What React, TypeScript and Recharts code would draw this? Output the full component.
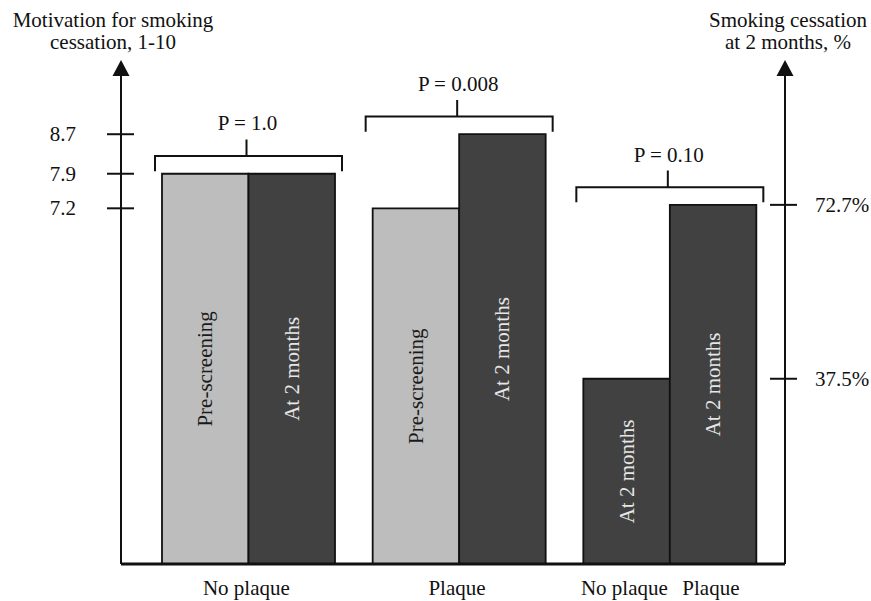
import React from "react";
import { ComposedChart, Bar, XAxis, YAxis, LabelList } from "recharts";

// #region Data
const groups = ["No plaque", "Plaque", "No plaque  Plaque"];
const preScreening = [7.9, 7.2, null];
const atTwoMonths = [7.9, 8.7, null];
const cessationNoPlaque = [null, null, 37.5];
const cessationPlaque = [null, null, 72.7];
const pValues = ["P = 1.0", "P = 0.008", "P = 0.10"];
const motivationTicks = [7.2, 7.9, 8.7];
const cessationTicks = [37.5, 72.7];
// #endregion

const data = groups.map((group, i) => ({
  group,
  pre: preScreening[i],
  post: atTwoMonths[i],
  noPlaque: cessationNoPlaque[i],
  plaque: cessationPlaque[i],
  p: pValues[i],
}));

const INK = "#111";
const LIGHT = "#bdbdbd";
const DARK = "#414141";
const FONT = "'Liberation Serif', 'Times New Roman', serif";
const FS = 21;
const BAR = 86.5;

const boxOf = (props: any) => props.viewBox ?? props;

const LeftTick = ({ x, y, payload }: any) => (
  <g>
    <line x1={x - 14} x2={x + 13} y1={y} y2={y} stroke={INK} strokeWidth={2} />
    <text x={x - 45} y={y + 7} textAnchor="end" fontSize={FS} fontFamily={FONT} fill={INK}>
      {payload.value}
    </text>
  </g>
);

const RightTick = ({ x, y, payload }: any) => (
  <g>
    <line x1={x - 15} x2={x + 12} y1={y} y2={y} stroke={INK} strokeWidth={2} />
    <text x={x + 30} y={y + 7} textAnchor="start" fontSize={FS} fontFamily={FONT} fill={INK}>
      {payload.value}%
    </text>
  </g>
);

const GroupTick = ({ x, y, payload }: any) => {
  const parts = String(payload.value).split("  ");
  const offsets = parts.length > 1 ? [-BAR / 2, BAR / 2] : [0];
  return (
    <g>
      {parts.map((p, i) => (
        <text key={p} x={x + offsets[i] - 2} y={y + 31} textAnchor="middle" fontSize={FS} fontFamily={FONT} fill={INK}>
          {p}
        </text>
      ))}
    </g>
  );
};

const axisTop = (lines: string[], side: "left" | "right") => (props: any) => {
  const vb = props.viewBox;
  const ax = side === "left" ? vb.x + vb.width : vb.x;
  const tx = side === "left" ? ax - 8 : ax + 3;
  const top = vb.y;
  return (
    <g>
      <path d={`M${ax},${top - 10}L${ax - 8.5},${top + 6}L${ax + 8.5},${top + 6}Z`} fill={INK} />
      <text x={tx} y={top - 43} textAnchor="middle" fontSize={FS} fontFamily={FONT} fill={INK}>
        {lines[0]}
      </text>
      <text x={tx} y={top - 21} textAnchor="middle" fontSize={FS} fontFamily={FONT} fill={INK}>
        {lines[1]}
      </text>
    </g>
  );
};

const inBar = (text: string, color: string) => (props: any) => {
  const { x, y, width, height } = boxOf(props);
  if (!height) return null;
  const cx = x + width / 2;
  const cy = y + height / 2;
  return (
    <text
      x={cx}
      y={cy}
      dy={7}
      transform={`rotate(-90 ${cx} ${cy})`}
      textAnchor="middle"
      fontSize={FS}
      fontFamily={FONT}
      fill={color}
    >
      {text}
    </text>
  );
};

// bracket over each pair, hung off the right-hand bar; value is the P text
const bracket = (props: any) => {
  const { x, y, width, height } = boxOf(props);
  if (!height) return null;
  const left = x - width - 7;
  const right = x + width + 7;
  const bottom = y - 2.5;
  const top = y - 17.7;
  const tickTop = y - 34.3;
  return (
    <g>
      <path
        d={`M${left},${bottom}V${top}H${right}V${bottom}M${x - 2},${top}V${tickTop}`}
        fill="none"
        stroke={INK}
        strokeWidth={2}
      />
      <text x={x - 1} y={tickTop - 9} textAnchor="middle" fontSize={FS} fontFamily={FONT} fill={INK}>
        {props.value}
      </text>
    </g>
  );
};

export default function App() {
  return (
    <div style={{ position: "absolute", left: 0, top: 0, background: "#fff" }}>
      <ComposedChart
        width={871}
        height={601}
        data={data}
        barGap={0}
        barSize={BAR}
        margin={{ top: 70, right: 0, bottom: 0, left: 0 }}
      >
        <XAxis
          dataKey="group"
          height={37}
          padding={{ left: 22, right: 10 }}
          axisLine={{ stroke: INK, strokeWidth: 3 }}
          tickLine={false}
          tickSize={0}
          tickMargin={0}
          tick={<GroupTick />}
          interval={0}
        />
        <YAxis
          yAxisId="left"
          width={121}
          domain={[0, 10]}
          ticks={motivationTicks}
          axisLine={{ stroke: INK, strokeWidth: 2 }}
          tickLine={false}
          tickSize={0}
          tickMargin={0}
          tick={<LeftTick />}
          label={axisTop(["Motivation for smoking", "cessation, 1-10"], "left")}
        />
        <YAxis
          yAxisId="right"
          orientation="right"
          width={86}
          domain={[0, 100]}
          ticks={cessationTicks}
          axisLine={{ stroke: INK, strokeWidth: 2 }}
          tickLine={false}
          tickSize={0}
          tickMargin={0}
          tick={<RightTick />}
          label={axisTop(["Smoking cessation", "at 2 months, %"], "right")}
        />
        <Bar yAxisId="left" dataKey="pre" stackId="a" fill={LIGHT} stroke={INK} strokeWidth={1.8} isAnimationActive={false}>
          <LabelList content={inBar("Pre-screening", "#1a1a1a")} />
        </Bar>
        <Bar yAxisId="left" dataKey="post" stackId="b" fill={DARK} stroke={INK} strokeWidth={1.8} isAnimationActive={false}>
          <LabelList content={inBar("At 2 months", "#e6e6e6")} />
          <LabelList dataKey="p" content={bracket} />
        </Bar>
        <Bar yAxisId="right" dataKey="noPlaque" stackId="a" fill={DARK} stroke={INK} strokeWidth={1.8} isAnimationActive={false}>
          <LabelList content={inBar("At 2 months", "#e6e6e6")} />
        </Bar>
        <Bar yAxisId="right" dataKey="plaque" stackId="b" fill={DARK} stroke={INK} strokeWidth={1.8} isAnimationActive={false}>
          <LabelList content={inBar("At 2 months", "#e6e6e6")} />
          <LabelList dataKey="p" content={bracket} />
        </Bar>
      </ComposedChart>
    </div>
  );
}
